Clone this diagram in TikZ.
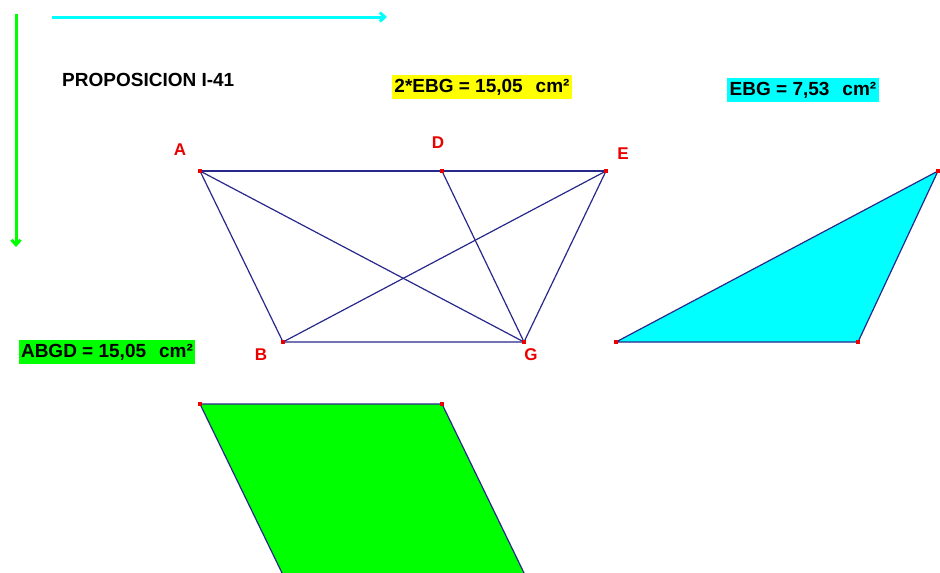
\documentclass[tikz,border=0pt]{standalone}
\usepackage{fontspec}
\setmainfont{Liberation Sans}
\usetikzlibrary{arrows.meta}
\definecolor{navyline}{RGB}{40,40,140}
\definecolor{ptred}{RGB}{235,0,0}
\definecolor{aqua}{RGB}{0,255,255}
\definecolor{lime}{RGB}{0,255,0}
\definecolor{lemon}{RGB}{255,255,0}
\begin{document}
\begin{tikzpicture}[x=1pt,y=-1pt,
	seg/.style={navyline, line width=1.2pt},
	lab/.style={text=ptred, font=\bfseries\fontsize{17}{17}\selectfont},
	area/.style={inner xsep=2.5pt, inner ysep=4pt, text=black, font=\bfseries\fontsize{19}{19}\selectfont},
	tip/.style={-{Straight Barb[length=5pt,width=9pt]}, line width=3pt}]
	\useasboundingbox[fill=white] (0,0) rectangle (940,573);
	
	% Axes
	\draw[tip, lime] (16,14) -- (16,247);
	\draw[tip, aqua] (52,17) -- (387,17);
	
	\node[anchor=west, inner xsep=0pt, font=\bfseries\fontsize{19}{19}\selectfont] (title) at (62,80) {PROPOSICION I-41};
	
	% Points
	\coordinate (A) at (200,171);
	\coordinate (D) at (442,171);
	\coordinate (E) at (606,171);
	\coordinate (B) at (283,342);
	\coordinate (G) at (524,342);
	
	\draw[seg] (A) -- (E);
	\draw[seg] (A) -- (B) -- (G);
	\draw[seg] (A) -- (G);
	\draw[seg] (D) -- (G);
	\draw[seg] (E) -- (G);
	\draw[seg] (E) -- (B);
	
	\node[lab] (la) at (180,150) {A};
	\node[lab] (ld) at (438,143) {D};
	\node[lab] (le) at (623,154) {E};
	\node[lab] (lb) at (261,355) {B};
	\node[lab] (lg) at (531,355) {G};
	
	% Triangle EBG
	\coordinate (T1) at (616,342);
	\coordinate (T2) at (858,342);
	\coordinate (T3) at (938,171);
	\draw[seg, fill=aqua] (T1) -- (T2) -- (T3) -- cycle;
	
	% Parallelogram ABGD
	\coordinate (P1) at (200,404);
	\coordinate (P2) at (442,404);
	\coordinate (P3) at (525,575);
	\coordinate (P4) at (283,575);
	\begin{scope}
		\clip (0,0) rectangle (940,573);
		\draw[seg, fill=lime] (P1) -- (P2) -- (P3) -- (P4) -- cycle;
	\end{scope}
	
	\foreach \p in {A,D,E,B,G,T1,T2,T3,P1,P2}
		\fill[ptred] (\p) +(-1.8,-1.8) rectangle +(1.8,1.8);
	
	% Areas
	\node[area, fill=lemon] (twoebg) at (482,87) {2*EBG = 15,05\hspace{13pt}cm²};
	\node[area, fill=aqua] (ebg) at (803,90) {EBG = 7,53\hspace{13pt}cm²};
	\node[area, fill=lime] (abgd) at (107,352) {ABGD = 15,05\hspace{13pt}cm²};
\end{tikzpicture}
\end{document}
